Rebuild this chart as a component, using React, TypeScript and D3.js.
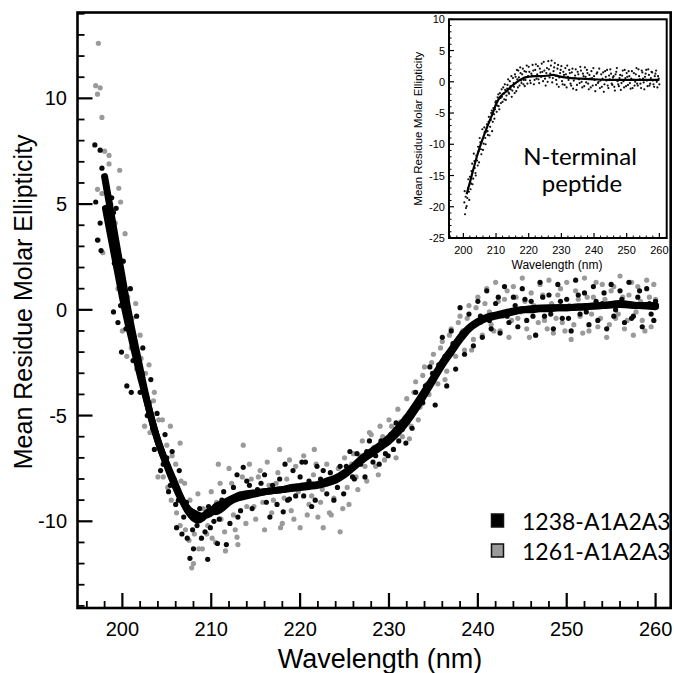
import React from "react";
import * as d3 from "d3";

// ---------- DATA ----------
// Main plot: smoothed curves (wavelength nm, MRE)
const fitA_wl = [198.0,198.5,199.0,199.5,200.0,200.5,201.0,201.5,202.0,202.5,203.0,203.5,204.0,204.5,205.0,205.5,206.0,206.5,207.0,207.5,208.0,208.5,209.0,209.5,210.0,210.5,211.0,212.0,213.0,214.0,215.0,216.0,217.0,218.0,219.0,220.0,221.0,222.0,223.0,224.0,225.0,226.0,227.0,228.0,229.0,230.0,231.0,232.0,233.0,234.0,235.0,236.0,237.0,238.0,239.0,240.0,241.0,242.0,243.0,244.0,245.0,246.0,247.0,248.0,249.0,250.0,252.0,254.0,256.0,258.0,260.0];
const fitA_val = [6.3,5.1,3.9,2.7,1.5,0.3,-0.8,-1.8,-2.8,-3.8,-4.7,-5.5,-6.2,-6.8,-7.3,-7.8,-8.3,-8.8,-9.25,-9.6,-9.85,-9.95,-9.85,-9.6,-9.5,-9.55,-9.45,-9.1,-8.9,-8.8,-8.7,-8.6,-8.55,-8.5,-8.45,-8.4,-8.35,-8.3,-8.2,-8.05,-7.8,-7.45,-7.1,-6.8,-6.5,-6.2,-5.8,-5.3,-4.7,-4.0,-3.3,-2.6,-2.0,-1.4,-0.9,-0.6,-0.4,-0.3,-0.2,-0.1,0.0,0.0,0.05,0.05,0.1,0.1,0.15,0.2,0.25,0.2,0.15];
const fitB_wl = [198.1,198.5,199.0,199.5,200.0,200.5,201.0,201.5,202.0,202.5,203.0,203.5,204.0,204.5,205.0,205.5,206.0,206.5,207.0,207.5,208.0,208.5,209.0,209.5,210.0,210.5,211.0,212.0,213.0,214.0,215.0,216.0,217.0,218.0,219.0,220.0,221.0,222.0,223.0,224.0,225.0,226.0,227.0,228.0,229.0,230.0,231.0,232.0,233.0,234.0,235.0,236.0,237.0,238.0,239.0,240.0,241.0,242.0,243.0,244.0,245.0,246.0,248.0,250.0,252.0,254.0,256.0,258.0,260.0];
const fitB_val = [4.8,3.9,2.8,1.7,0.6,-0.4,-1.3,-2.2,-3.1,-3.9,-4.7,-5.5,-6.2,-6.8,-7.35,-7.9,-8.4,-8.85,-9.2,-9.45,-9.6,-9.7,-9.75,-9.7,-9.6,-9.3,-9.2,-9.0,-8.8,-8.7,-8.65,-8.6,-8.55,-8.5,-8.4,-8.35,-8.3,-8.25,-8.1,-7.95,-7.7,-7.4,-7.0,-6.7,-6.4,-6.05,-5.6,-5.1,-4.5,-3.85,-3.2,-2.5,-1.9,-1.3,-0.85,-0.55,-0.35,-0.25,-0.15,-0.05,0.0,0.05,0.1,0.1,0.15,0.2,0.3,0.2,0.2];

// Raw points, series 1238 (black): [wl, value, wl, value, ...]
const raw1238 = [196.9,7.8, 197.5,7.55, 197.7,6.7, 197.0,5.1, 197.5,4.1, 197.2,3.3, 197.6,2.8, 198.8,5.3, 199.1,2.2, 199.3,4.8, 199.8,0.2, 200.1,2.3, 200.4,-0.9, 200.9,1.0, 201.2,-2.4, 201.6,-0.3, 202.0,-3.9, 202.3,-1.8, 202.8,-5.0, 203.2,-3.3, 203.6,-6.6, 203.9,-4.9, 204.3,-7.6, 204.8,-5.9, 205.2,-8.6, 205.6,-6.7, 206.0,-9.2, 206.4,-7.6, 199.5,-0.6, 199.0,-0.1, 199.9,-2.0, 200.5,-3.6, 201.0,-3.9,
  207.6,-11.75, 209.6,-11.8, 208.0,-11.3, 207.3,-10.8, 208.9,-10.8, 210.7,-11.05, 211.7,-11.1, 206.1,-10.3, 206.7,-10.6, 209.9,-10.3, 213.0,-9.8, 212.1,-10.1, 213.6,-7.45, 212.9,-7.8, 214.3,-8.3, 214.9,-8.7, 216.2,-9.1, 216.6,-9.8, 218.1,-9.55, 218.3,-7.3, 218.8,-8.95, 220.0,-7.9, 220.2,-7.2, 220.6,-7.2, 221.9,-7.4, 222.6,-7.6, 223.0,-8.7, 224.5,-7.4, 224.9,-8.7, 225.6,-6.7, 226.4,-6.8, 227.3,-7.9, 227.8,-6.2, 228.5,-6.9, 229.6,-6.8, 230.5,-6.6, 230.8,-5.35, 231.5,-5.65, 232.3,-5.0, 233.0,-3.9, 233.8,-4.4, 211.2,-9.0, 215.6,-8.2, 217.4,-9.2, 219.5,-8.8, 221.3,-9.3, 223.8,-9.0, 210.1,-9.4, 226.1,-8.0, 228.9,-7.3, 231.9,-6.3, 234.6,-2.7, 235.2,-4.5,
  236.0,-1.3, 236.5,-3.6, 237.0,-1.0, 237.5,-2.8, 238.0,0.1, 238.5,-2.1, 239.0,-0.2, 239.5,-1.7, 240.0,0.4, 240.5,-1.3, 241.0,0.9, 241.5,-0.9, 242.0,0.3, 242.5,-1.1, 243.0,1.1, 243.5,-0.6, 244.0,0.6, 244.5,-0.8, 245.0,1.0, 245.5,-0.5, 246.0,0.4, 246.5,-1.2, 247.0,1.3, 247.5,-0.3, 248.0,0.7, 248.5,-0.9, 249.0,1.2, 249.5,-0.4, 250.0,0.5, 250.5,-1.0, 251.0,1.4, 251.5,-0.2, 252.0,0.8, 252.5,-0.7, 253.0,1.1, 253.5,-0.5, 254.0,0.3, 254.5,-0.9, 255.0,1.2, 255.5,0.0, 256.0,0.9, 256.5,-0.6, 257.0,1.3, 257.5,-0.3, 258.0,0.6, 258.5,-0.8, 259.0,1.0, 259.5,-0.2, 260.0,0.4,
  198.2,5.9, 198.6,4.5, 199.0,4.6, 199.4,3.0, 199.7,1.6, 200.2,0.9, 200.7,-0.2, 201.1,-1.2, 201.4,-1.5, 201.8,-2.6, 202.2,-3.0, 202.6,-4.1, 203.0,-4.4, 203.4,-5.6, 203.8,-5.8, 204.2,-6.4, 204.6,-7.3, 205.0,-7.0, 205.4,-8.3, 205.8,-8.0, 206.3,-9.0, 206.9,-9.8, 207.2,-9.1, 207.9,-10.4, 208.4,-10.2, 208.7,-9.4, 209.3,-10.5, 209.7,-9.3, 210.3,-10.0, 210.9,-9.9, 211.4,-8.6, 212.5,-8.4, 213.3,-9.5, 214.0,-8.1, 214.6,-9.4, 215.2,-8.5, 216.0,-7.8, 216.9,-8.3, 217.7,-8.0, 218.6,-9.0, 219.2,-7.6, 220.4,-8.8, 221.0,-8.1, 221.7,-9.0, 222.3,-8.0, 223.4,-7.7, 224.2,-8.4, 225.2,-7.4, 225.9,-7.9, 226.8,-7.3, 227.5,-6.7, 228.2,-7.2, 229.1,-6.2, 229.9,-6.9, 230.2,-5.9, 231.1,-6.2, 231.8,-5.2, 232.6,-5.6, 233.3,-4.4, 234.1,-3.6, 234.9,-3.0, 235.6,-2.6, 236.3,-2.2, 237.2,-1.6, 238.2,-1.1, 239.3,-0.8, 240.3,-0.3, 241.3,-0.5, 242.3,0.6, 243.3,-0.3, 244.2,0.2, 245.3,0.5, 246.2,-0.3, 247.3,0.6, 248.2,-0.2, 249.3,0.4, 250.2,-0.4, 251.3,0.7, 252.2,-0.1, 253.3,0.4, 254.2,0.8, 255.3,-0.3, 256.2,0.5, 257.3,-0.4, 258.2,0.9, 259.3,0.3, 259.8,-0.5];

// Raw points, series 1261 (grey)
const raw1261 = [197.3,12.6, 197.0,10.6, 197.5,10.5, 197.2,10.2, 197.7,9.1, 198.0,7.5, 198.5,7.3, 198.5,6.9, 199.7,6.6, 199.6,5.75, 199.8,5.1, 197.2,5.7, 197.7,5.5, 197.3,3.3, 197.8,2.7, 199.0,3.2, 200.3,3.6, 199.5,1.0, 200.0,-1.0, 200.5,-2.2, 201.0,-1.8, 201.5,0.3, 202.0,-1.2, 202.5,-5.5, 203.0,-2.6, 203.5,-4.3, 204.0,-7.9, 204.5,-5.2, 205.0,-6.4, 205.4,-5.5, 205.5,-9.0, 206.0,-7.3, 206.5,-6.3, 206.5,-10.2, 207.0,-8.2, 207.5,-10.9, 207.8,-12.2, 208.0,-12.0, 208.5,-8.7, 209.0,-11.3, 209.5,-10.6, 210.0,-8.6, 210.5,-11.0, 210.8,-7.3, 211.0,-8.2, 211.5,-10.5, 211.6,-11.4, 212.0,-7.5, 212.5,-9.7, 212.9,-10.75, 213.0,-11.1, 213.5,-7.9, 213.6,-6.4, 214.0,-9.3, 214.5,-8.0, 215.0,-9.9, 215.5,-7.6, 216.0,-10.4, 216.5,-8.3, 217.0,-9.0, 217.5,-7.7, 217.7,-6.6, 217.8,-10.3, 218.0,-10.1, 218.5,-8.0, 219.0,-9.5, 219.5,-7.4, 220.0,-10.3, 220.4,-6.9, 220.5,-8.4, 221.0,-9.2, 221.5,-7.8, 221.6,-6.6, 222.0,-9.8, 222.5,-8.5, 222.6,-10.3, 223.0,-7.3, 223.3,-9.6, 223.5,-9.7, 224.0,-8.1, 224.5,-10.5, 225.0,-7.0, 225.5,-9.2, 226.0,-6.8, 226.5,-8.5, 227.0,-6.2, 227.5,-8.1, 228.0,-5.9, 228.5,-7.4, 229.0,-5.5, 229.5,-7.1, 230.0,-5.2, 230.5,-6.6, 231.0,-4.7, 231.5,-6.0, 232.0,-4.2, 232.5,-5.5, 233.0,-3.4, 233.5,-4.6, 234.0,-2.7, 234.5,-4.0, 235.0,-2.1, 235.5,-3.5, 236.0,-1.5, 236.5,-2.9, 237.0,-0.9, 237.5,-2.2, 238.0,-0.3, 238.5,-1.9, 239.0,0.2, 239.5,-1.4, 240.0,0.6, 240.5,-1.2, 241.0,1.0, 241.5,-0.7, 242.0,1.3, 242.5,-1.0, 243.0,0.5, 243.5,-1.3, 244.0,1.1, 244.5,-0.4, 245.0,1.5, 245.5,-0.9, 246.0,0.8, 246.5,-1.2, 247.0,1.2, 247.5,-0.5, 248.0,1.4, 248.5,-1.1, 249.0,0.7, 249.5,-0.6, 250.0,1.3, 250.5,-1.4, 251.0,0.9, 251.5,-0.3, 252.0,1.5, 252.5,-1.0, 253.0,0.6, 253.5,-0.8, 254.0,1.2, 254.5,-1.3, 255.0,0.9, 255.5,-0.4, 256.0,1.6, 256.5,-0.9, 257.0,0.7, 257.5,-1.2, 258.0,1.1, 258.5,-0.5, 259.0,1.4, 259.5,-0.8, 260.0,0.5,
  198.7,5.0, 199.2,4.1, 199.6,2.4, 200.1,1.1, 200.6,0.6, 201.1,-0.4, 201.6,-2.8, 202.1,-2.3, 202.6,-3.0, 203.1,-5.8, 203.6,-3.9, 204.1,-5.2, 204.6,-7.9, 205.1,-8.4, 205.6,-6.9, 206.1,-9.6, 206.6,-8.1, 207.1,-10.4, 207.6,-9.0, 208.1,-10.6, 208.6,-11.3, 209.1,-9.4, 209.6,-10.2, 210.1,-10.8, 210.6,-9.1, 211.1,-9.9, 211.9,-9.0, 212.3,-8.2, 212.7,-10.4, 213.2,-8.7, 213.9,-10.1, 214.3,-7.3, 214.8,-9.3, 215.3,-7.9, 215.8,-9.1, 216.3,-7.2, 216.8,-9.6, 217.3,-8.2, 218.2,-8.9, 218.8,-7.1, 219.3,-9.9, 219.8,-8.6, 220.8,-9.7, 221.3,-8.8, 221.8,-7.3, 222.3,-9.1, 223.8,-8.9, 224.3,-7.5, 224.8,-9.4, 225.3,-8.4, 225.8,-7.3, 226.3,-7.9, 226.8,-6.9, 227.3,-7.4, 227.8,-5.8, 228.3,-6.5, 228.8,-7.8, 229.3,-6.0, 229.8,-6.3, 230.3,-5.5, 230.8,-7.0, 231.3,-5.3, 231.8,-5.1, 232.3,-6.1, 232.8,-3.9, 233.3,-5.2, 233.8,-3.1, 234.3,-3.5, 234.8,-2.5, 235.3,-2.9, 235.8,-1.8, 236.3,-3.3, 236.8,-1.2, 237.3,-1.7, 237.8,-0.6, 238.3,-1.0, 238.8,-0.4, 239.3,-1.9, 239.8,0.1, 240.3,-0.6, 240.8,0.3, 241.3,-0.1, 241.8,-1.0, 242.3,0.4, 242.8,-0.3, 243.3,0.9, 243.8,-0.5, 244.3,0.6, 244.8,-0.1, 245.3,0.4, 245.8,-1.3, 246.3,0.2, 246.8,-0.6, 247.3,0.7, 247.8,-0.9, 248.3,0.3, 248.8,-0.4, 249.3,1.0, 249.8,-1.0, 250.3,0.2, 250.8,-0.7, 251.3,0.5, 251.8,-1.1, 252.3,0.6, 252.8,-0.2, 253.3,1.3, 253.8,-0.4, 254.3,0.5, 254.8,-0.7, 255.3,1.1, 255.8,-0.2, 256.3,0.6, 256.8,-0.5, 257.3,1.3, 257.8,-0.1, 258.3,0.4, 258.8,-1.0, 259.3,0.6, 259.8,1.2];

// Inset: N-terminal peptide
const insetFit_wl = [201.0,202.0,203.0,204.0,205.0,206.0,207.0,208.0,209.0,210.0,211.0,212.0,213.0,214.0,215.0,216.0,217.0,218.0,219.0,220.0,222.0,224.0,226.0,227.5,229.0,231.0,233.0,236.0,240.0,245.0,250.0,255.0,260.0];
const insetFit_val = [-18.0,-16.1,-14.1,-12.2,-10.5,-9.0,-7.6,-6.3,-5.0,-3.6,-2.6,-2.0,-1.6,-1.1,-0.6,-0.2,0.2,0.5,0.7,0.8,0.9,0.9,1.0,1.1,0.9,0.7,0.6,0.5,0.4,0.3,0.3,0.3,0.3];
const insetRaw = [200.3,-19.3, 200.5,-21.2, 200.8,-20.2, 201.2,-18.6, 201.5,-15.6, 201.8,-18.9, 202.2,-17.2, 202.5,-14.3, 202.8,-16.4, 203.2,-11.5, 203.5,-13.8, 203.8,-15.0, 204.2,-12.6, 204.5,-10.4, 204.8,-12.9, 205.2,-9.7, 205.5,-11.6, 205.8,-7.6, 206.2,-9.9, 206.5,-8.1, 206.8,-10.0, 207.2,-6.8, 207.5,-8.5, 207.8,-5.6, 208.2,-7.2, 208.5,-5.0, 208.8,-7.9, 209.2,-4.2, 209.5,-5.9, 209.8,-3.3, 210.2,-4.8, 210.5,-2.5, 210.8,-3.9, 211.2,-1.8, 211.5,-3.4, 211.8,-2.4, 212.2,-0.9, 212.5,-2.8, 212.8,-1.3, 213.2,-2.2, 213.5,-0.5, 213.8,-1.7, 214.2,0.1, 214.5,-1.2, 214.8,-2.4, 215.2,0.6, 215.5,-0.8, 215.8,1.2, 216.2,-1.5, 216.5,0.4, 216.8,1.8, 217.2,-0.6, 217.5,1.4, 217.8,-0.2, 218.2,2.1, 218.5,0.3, 218.8,-0.7,
  219.2,1.6, 219.6,-0.3, 220.0,2.4, 220.4,0.2, 220.8,1.3, 221.2,2.7, 221.6,-0.4, 222.0,1.9, 222.4,0.5, 222.8,2.5, 223.2,-0.2, 223.6,1.5, 224.0,2.9, 224.4,0.1, 224.8,1.8, 225.2,-0.6, 225.6,2.2, 226.0,3.3, 226.4,0.7, 226.8,2.6, 227.2,-0.1, 227.6,1.7, 228.0,3.0, 228.4,0.3, 228.8,2.1, 229.2,-0.8, 229.6,1.4, 230.0,2.5, 230.4,-0.4, 230.8,1.1, 231.2,2.2, 231.6,-0.9, 232.0,0.8, 232.4,1.9, 232.8,-0.3, 233.2,1.5, 233.6,-1.1, 234.0,0.6, 234.4,2.0, 234.8,-0.5, 235.2,1.2, 235.6,-0.2, 236.0,1.8, 236.4,-0.9, 236.8,0.9, 237.2,2.3, 237.6,-0.1, 238.0,1.4, 238.4,-1.2, 238.8,0.5, 239.2,1.7, 239.6,-0.6, 240.0,0.9, 240.4,-1.5, 240.8,1.3, 241.2,-0.2, 241.6,2.1, 242.0,0.2, 242.4,-0.8, 242.8,1.5, 243.2,-0.4, 243.6,0.8, 244.0,1.9, 244.4,-1.0, 244.8,0.4, 245.2,1.3, 245.6,-0.5, 246.0,0.9, 246.4,-1.4, 246.8,1.6, 247.2,0.1, 247.6,-0.7, 248.0,1.1, 248.4,-0.2, 248.8,1.8, 249.2,-0.9, 249.6,0.6, 250.0,1.4, 250.4,-0.5, 250.8,0.9, 251.2,-1.1, 251.6,1.7, 252.0,0.3, 252.4,-0.6, 252.8,1.2, 253.2,-0.3, 253.6,2.0, 254.0,0.4, 254.4,-1.0, 254.8,1.5, 255.2,-0.1, 255.6,0.8, 256.0,1.9, 256.4,-0.7, 256.8,1.1, 257.2,-0.3, 257.6,1.6, 258.0,0.2, 258.4,-0.8, 258.8,1.3, 259.2,0.0, 259.6,0.9, 260.0,-0.4,
  200.4,-17.5, 200.7,-18.4, 201.0,-19.9, 201.4,-17.0, 201.7,-17.6, 202.0,-15.2, 202.4,-16.3, 202.7,-13.1, 203.0,-15.5, 203.4,-12.7, 203.7,-14.6, 204.0,-11.8, 204.4,-13.4, 204.7,-11.1, 205.0,-9.0, 205.4,-10.8, 205.7,-9.4, 206.0,-10.9, 206.4,-7.3, 206.7,-9.0, 207.0,-8.0, 207.4,-7.9, 207.7,-6.4, 208.0,-8.6, 208.4,-6.1, 208.7,-4.6, 209.0,-6.4, 209.4,-5.2, 209.7,-4.4, 210.0,-3.1, 210.4,-3.8, 210.7,-2.0, 211.0,-4.4, 211.4,-2.6, 211.7,-1.2, 212.0,-3.2, 212.4,-1.9, 212.7,-0.4, 213.0,-2.9, 213.4,-1.1, 213.7,0.4, 214.0,-1.9, 214.4,-0.7, 214.7,0.9, 215.0,-1.4, 215.4,-0.2, 215.7,-1.8, 216.0,0.8, 216.4,1.9, 216.7,-0.9, 217.0,0.7, 217.4,2.3, 217.7,0.2, 218.0,1.2, 218.4,-0.4, 218.7,1.7, 219.0,0.3, 219.4,2.6, 219.8,0.9, 220.2,1.6, 220.6,-0.2, 221.0,1.0, 221.4,1.8, 221.8,0.3, 222.2,2.8, 222.6,1.2, 223.0,0.4, 223.4,2.1, 223.8,0.8, 224.2,1.6, 224.6,3.2, 225.0,0.5, 225.4,1.4, 225.8,0.0, 226.2,2.0, 226.6,1.3, 227.0,3.4, 227.4,0.6, 227.8,2.3, 228.2,1.0, 228.6,-0.4, 229.0,2.7, 229.4,0.7, 229.8,1.9, 230.2,0.1, 230.6,1.6, 231.0,-0.5, 231.4,1.2, 231.8,2.6, 232.2,0.3, 232.6,1.4, 233.0,-0.6, 233.4,2.1, 233.8,0.2, 234.2,1.0, 234.6,-1.3, 235.0,1.6, 235.4,0.4, 235.8,2.4, 236.2,0.0, 236.6,1.3, 237.0,-0.7, 237.4,0.8, 237.8,1.9, 238.2,-0.3, 238.6,1.1, 239.0,-0.9, 239.4,0.6, 239.8,2.2, 240.2,0.3, 240.6,-0.5, 241.0,1.5, 241.4,0.0, 241.8,-1.0, 242.2,1.2, 242.6,0.5, 243.0,-1.6, 243.4,1.7, 243.8,0.2, 244.2,-0.6, 244.6,1.0, 245.0,2.0, 245.4,-0.3, 245.8,0.7, 246.2,-0.8, 246.6,1.2, 247.0,2.2, 247.4,-0.4, 247.8,0.6, 248.2,-1.3, 248.6,1.0, 249.0,0.1, 249.4,1.9, 249.8,-0.7, 250.2,0.8, 250.6,1.7, 251.0,-0.2, 251.4,0.5, 251.8,-1.0, 252.2,1.4, 252.6,0.0, 253.0,2.2, 253.4,-0.6, 253.8,0.9, 254.2,-0.3, 254.6,1.8, 255.0,0.5, 255.4,-1.2, 255.8,1.3, 256.2,0.2, 256.6,2.0, 257.0,-0.6, 257.4,0.6, 257.8,1.5, 258.2,-0.4, 258.6,0.9, 259.0,1.8, 259.4,-0.9, 259.8,0.5];

const mainXTicks = [200, 210, 220, 230, 240, 250, 260];
const mainYTicks = [-10, -5, 0, 5, 10];
const insetXTicks = [200, 210, 220, 230, 240, 250, 260];
const insetYTicks = [-25, -20, -15, -10, -5, 0, 5, 10];
const legendLabels = ["1238-A1A2A3", "1261-A1A2A3"];
const legendColors = ["#000000", "#9a9a9a"];

const pairs = (a: number[]) => {
  const out: [number, number][] = [];
  for (let i = 0; i < a.length; i += 2) out.push([a[i], a[i + 1]]);
  return out;
};
const zip = (a: number[], b: number[]) => a.map((v, i) => [v, b[i]] as [number, number]);

export default function App() {
  const W = 674, H = 673;
  const x = d3.scaleLinear().domain([194.95, 261.7]).range([77.5, 670.7]);
  const y = d3.scaleLinear().domain([-14.1, 14.06]).range([608, 12.5]);
  const line = d3.line<[number, number]>().x(d => x(d[0])).y(d => y(d[1])).curve(d3.curveMonotoneX);

  const ix = d3.scaleLinear().domain([195.6, 262.25]).range([449, 666.7]);
  const iy = d3.scaleLinear().domain([-25, 10]).range([238, 19.3]);
  const iline = d3.line<[number, number]>().x(d => ix(d[0])).y(d => iy(d[1])).curve(d3.curveMonotoneX);

  const helv = "'Liberation Sans', Arial, Helvetica, sans-serif";
  const gill = "Lato, 'Open Sans', sans-serif";

  const xMinor = d3.range(196, 261, 2).filter(v => v % 10 !== 0);
  const yMinor = d3.range(-14, 15, 1).filter(v => v % 5 !== 0);
  const ixMinor = d3.range(196, 262, 2).filter(v => v % 10 !== 0);
  const iyMinor = d3.range(-24, 10, 1).filter(v => v % 5 !== 0);

  return (
    <svg width={W} height={H} style={{ position: "absolute", left: 0, top: 0, background: "#fff" }}>
      <rect x={0} y={0} width={W} height={H} fill="#fff" />
      {/* scatter */}
      <g fill="#9a9a9a">
        {pairs(raw1261).map((d, i) => <circle key={i} cx={x(d[0])} cy={y(d[1])} r={2.6} />)}
      </g>
      <g fill="#0a0a0a">
        {pairs(raw1238).map((d, i) => <circle key={i} cx={x(d[0])} cy={y(d[1])} r={2.6} />)}
      </g>
      <path d={line(zip(fitB_wl, fitB_val)) || ""} fill="none" stroke="#000" strokeWidth={7} strokeLinecap="round" strokeLinejoin="round" />
      <path d={line(zip(fitA_wl, fitA_val)) || ""} fill="none" stroke="#000" strokeWidth={7} strokeLinecap="round" strokeLinejoin="round" />

      {/* main frame */}
      <rect x={77.5} y={12.5} width={670.7 - 77.5} height={608 - 12.5} fill="none" stroke="#000" strokeWidth={2.6} />
      {mainXTicks.map(t => <line key={"xm" + t} x1={x(t)} x2={x(t)} y1={608} y2={593} stroke="#000" strokeWidth={2.2} />)}
      {xMinor.map(t => <line key={"xn" + t} x1={x(t)} x2={x(t)} y1={608} y2={601} stroke="#000" strokeWidth={1.8} />)}
      {mainXTicks.map(t => <text key={"xl" + t} x={x(t)} y={636} textAnchor="middle" fontFamily={helv} fontSize={20}>{t}</text>)}
      {mainYTicks.map(t => <line key={"ym" + t} x1={77.5} x2={92.5} y1={y(t)} y2={y(t)} stroke="#000" strokeWidth={2.2} />)}
      {yMinor.map(t => <line key={"yn" + t} x1={77.5} x2={84.5} y1={y(t)} y2={y(t)} stroke="#000" strokeWidth={1.8} />)}
      {mainYTicks.map(t => <text key={"yl" + t} x={67} y={y(t) + 7} textAnchor="end" fontFamily={helv} fontSize={20}>{t}</text>)}
      <text x={380} y={668} textAnchor="middle" fontFamily={helv} fontSize={27}>Wavelength (nm)</text>
      <text transform={`translate(32,${y(0) - 8}) rotate(-90)`} textAnchor="middle" fontFamily={helv} fontSize={25}>Mean Residue Molar Ellipticity</text>

      {/* legend */}
      {legendLabels.map((l, i) => (
        <g key={l} transform={`translate(0,${521 + i * 30})`}>
          <rect x={491.5} y={-7} width={12} height={13} fill={legendColors[i]} stroke="#111" strokeWidth={1.5} />
          <text x={522} y={8.5} fontFamily={gill} fontSize={23}>{l}</text>
        </g>
      ))}

      {/* inset */}
      <rect x={449} y={19.3} width={666.7 - 449} height={238 - 19.3} fill="#fff" stroke="none" />
      <g fill="#111">
        {pairs(insetRaw).map((d, i) => <circle key={i} cx={ix(d[0])} cy={iy(d[1])} r={1.1} />)}
      </g>
      <path d={iline(zip(insetFit_wl, insetFit_val)) || ""} fill="none" stroke="#000" strokeWidth={2.2} />
      <rect x={449} y={19.3} width={666.7 - 449} height={238 - 19.3} fill="none" stroke="#000" strokeWidth={2} />
      {insetXTicks.map(t => <line key={"ixm" + t} x1={ix(t)} x2={ix(t)} y1={238} y2={233} stroke="#000" strokeWidth={1.2} />)}
      {ixMinor.map(t => <line key={"ixn" + t} x1={ix(t)} x2={ix(t)} y1={238} y2={235.5} stroke="#000" strokeWidth={1} />)}
      {insetXTicks.map(t => <text key={"ixl" + t} x={ix(t)} y={254} textAnchor="middle" fontFamily={helv} fontSize={11}>{t}</text>)}
      {insetYTicks.map(t => <line key={"iym" + t} x1={449} x2={454} y1={iy(t)} y2={iy(t)} stroke="#000" strokeWidth={1.2} />)}
      {iyMinor.map(t => <line key={"iyn" + t} x1={449} x2={451.5} y1={iy(t)} y2={iy(t)} stroke="#000" strokeWidth={1} />)}
      {insetYTicks.map(t => <text key={"iyl" + t} x={445} y={iy(t) + 4} textAnchor="end" fontFamily={helv} fontSize={11}>{t}</text>)}
      <text x={557} y={269} textAnchor="middle" fontFamily={helv} fontSize={12}>Wavelength (nm)</text>
      <text transform={`translate(422,${(19.3 + 238) / 2}) rotate(-90)`} textAnchor="middle" fontFamily={helv} fontSize={11.5}>Mean Residue Molar Ellipticity</text>
      <text x={580} y={165} textAnchor="middle" fontFamily={gill} fontSize={24}>N-terminal</text>
      <text x={582} y={192} textAnchor="middle" fontFamily={gill} fontSize={24}>peptide</text>
    </svg>
  );
}
